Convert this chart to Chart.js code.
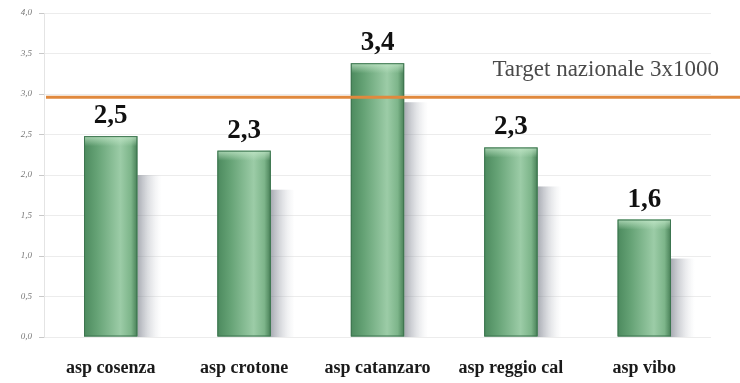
<!DOCTYPE html>
<html>
<head>
<meta charset="utf-8">
<script src="https://cdn.jsdelivr.net/npm/chart.js@4/dist/chart.umd.min.js"></script>
<style>
  html, body { margin: 0; padding: 0; background: #fff; }
  #wrap { width: 740px; height: 383px; }
</style>
</head>
<body>
<div id="wrap"><canvas id="chart" width="740" height="383"></canvas></div>
<script>
var categories = ["asp cosenza", "asp crotone", "asp catanzaro", "asp reggio cal", "asp vibo"];
var values = [2.48, 2.30, 3.38, 2.34, 1.45];
var valueLabels = ["2,5", "2,3", "3,4", "2,3", "1,6"];
var yTicks = [0, 0.5, 1, 1.5, 2, 2.5, 3, 3.5, 4];
var targetValue = 2.96;
var targetText = "Target nazionale 3x1000";

// grey shadow to the right of each bar
var shadowPlugin = {
    id: "shadows",
    beforeDatasetsDraw: function (chart) {
        var ctx = chart.ctx;
        var meta = chart.getDatasetMeta(0);
        var base = chart.scales.y.getPixelForValue(0);
        meta.data.forEach(function (bar) {
            var x0 = bar.x + bar.width / 2;
            var top = bar.y + 39;
            if (top >= base) return;
            var g = ctx.createLinearGradient(x0, 0, x0 + 24, 0);
            g.addColorStop(0, "rgba(110,115,128,0.6)");
            g.addColorStop(1, "rgba(200,205,212,0)");
            ctx.save();
            ctx.fillStyle = g;
            ctx.fillRect(x0, top, 24, base - top);
            ctx.restore();
        });
    }
};

// cylinder-like shading over each bar, using the bar's own geometry
var shadePlugin = {
    id: "shade",
    afterDatasetsDraw: function (chart) {
        var ctx = chart.ctx;
        var meta = chart.getDatasetMeta(0);
        meta.data.forEach(function (bar) {
            var left = bar.x - bar.width / 2;
            var w = bar.width;
            var h = bar.base - bar.y;
            var g = ctx.createLinearGradient(left, 0, left + w, 0);
            g.addColorStop(0, "#4c8a5e");
            g.addColorStop(0.25, "#66a376");
            g.addColorStop(0.68, "#9ccca7");
            g.addColorStop(0.88, "#7db58a");
            g.addColorStop(1, "#477f56");
            ctx.save();
            ctx.fillStyle = g;
            ctx.fillRect(left, bar.y, w, h);
            var cap = ctx.createLinearGradient(0, bar.y, 0, bar.y + 10);
            cap.addColorStop(0, "rgba(200,235,205,0.75)");
            cap.addColorStop(1, "rgba(200,235,205,0)");
            ctx.fillStyle = cap;
            ctx.fillRect(left, bar.y, w, 10);
            ctx.strokeStyle = "#3d7550";
            ctx.lineWidth = 1;
            ctx.strokeRect(left + 0.5, bar.y + 0.5, w - 1, h - 1);
            ctx.restore();
        });
    }
};

// orange target line and value labels
var overlayPlugin = {
    id: "overlay",
    afterDatasetsDraw: function (chart) {
        var ctx = chart.ctx;
        var area = chart.chartArea;
        var y = chart.scales.y.getPixelForValue(targetValue);
        ctx.save();
        ctx.strokeStyle = "#e0893e";
        ctx.lineWidth = 3;
        ctx.beginPath();
        ctx.moveTo(area.left + 2, y);
        ctx.lineTo(chart.width, y);
        ctx.stroke();

        ctx.fillStyle = "#4a4a4a";
        ctx.font = "23px 'Liberation Serif'";
        ctx.textAlign = "right";
        ctx.textBaseline = "alphabetic";
        ctx.fillText(targetText, 719, y - 21);

        ctx.fillStyle = "#111";
        ctx.font = "bold 27px 'Liberation Serif'";
        ctx.textAlign = "center";
        var meta = chart.getDatasetMeta(0);
        meta.data.forEach(function (bar, i) {
            ctx.fillText(valueLabels[i], bar.x, bar.y - 13);
        });
        ctx.restore();
    }
};

var chart = new Chart(document.getElementById("chart"), {
    type: "bar",
    data: {
        labels: categories,
        datasets: [{
            data: values,
            backgroundColor: "#6aa57a",
            borderColor: "#3f7a50",
            borderWidth: 1,
            barPercentage: 0.4,
            categoryPercentage: 1
        }]
    },
    options: {
        responsive: false,
        animation: false,
        layout: { padding: { top: 13, right: 29, left: 0, bottom: 0 } },
        plugins: {
            legend: { display: false },
            tooltip: { enabled: false }
        },
        scales: {
            x: {
                grid: { display: false },
                border: { display: false },
                ticks: {
                    color: "#1a1a1a",
                    font: { family: "'Liberation Serif'", size: 18, weight: "bold" },
                    padding: 13
                },
                afterFit: function (scale) { scale.height = 46; }
            },
            y: {
                min: 0,
                max: 4,
                afterBuildTicks: function (scale) {
                    scale.ticks = yTicks.map(function (v) { return { value: v }; });
                },
                grid: { color: "#ececec", tickLength: 5, tickColor: "#c8c8c8" },
                border: { color: "#e4e4e4" },
                ticks: {
                    color: "#777",
                    font: { family: "'Liberation Serif'", size: 9, style: "italic" },
                    padding: 7,
                    callback: function (v) { return v.toFixed(1).replace(".", ","); }
                },
                afterFit: function (scale) { scale.width = 44; }
            }
        }
    },
    plugins: [shadowPlugin, shadePlugin, overlayPlugin]
});
</script>
</body>
</html>
